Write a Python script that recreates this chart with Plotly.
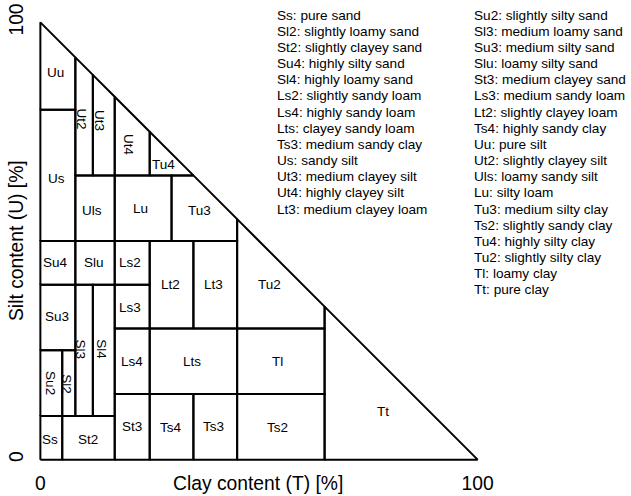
import plotly.graph_objects as go

# ---- data: KA5 soil texture classes (clay T %, silt U %) ----
class_names = ["Ss", "St2", "Su2", "Sl2", "Sl3", "Sl4", "Su3", "Su4", "Slu",
               "St3", "Ls4", "Ls3", "Ls2", "Ts4", "Ts3", "Lts", "Lt2", "Lt3",
               "Ts2", "Tl", "Tu2", "Tt", "Us", "Uu", "Uls", "Ut2", "Ut3", "Ut4",
               "Tu4", "Lu", "Tu3"]
poly_T = [
    [0, 5, 5, 0], [5, 17, 17, 5], [0, 5, 5, 0], [5, 8, 8, 5], [8, 12, 12, 8],
    [12, 17, 17, 12], [0, 8, 8, 0], [0, 8, 8, 0], [8, 17, 17, 8],
    [17, 25, 25, 17], [17, 25, 25, 17], [17, 25, 25, 17], [17, 25, 25, 17],
    [25, 35, 35, 25], [35, 45, 45, 35], [25, 45, 45, 25], [25, 35, 35, 25],
    [35, 45, 45, 35], [45, 65, 65, 45], [45, 65, 65, 45], [45, 65, 65, 45],
    [65, 100, 65], [0, 8, 8, 0], [0, 8, 8, 0], [8, 17, 17, 8], [8, 12, 12, 8],
    [12, 17, 17, 12], [17, 25, 25, 17], [25, 35, 25], [17, 30, 30, 17],
    [30, 45, 45, 35, 30],
]
poly_U = [
    [0, 0, 10, 10], [0, 0, 10, 10], [10, 10, 25, 25], [10, 10, 25, 25], [10, 10, 40, 40],
    [10, 10, 40, 40], [25, 25, 40, 40], [40, 40, 50, 50], [40, 40, 50, 50],
    [0, 0, 15, 15], [15, 15, 30, 30], [30, 30, 40, 40], [40, 40, 50, 50],
    [0, 0, 15, 15], [0, 0, 15, 15], [15, 15, 30, 30], [30, 30, 50, 50],
    [30, 30, 50, 50], [0, 0, 15, 15], [15, 15, 30, 30], [30, 30, 35, 55],
    [0, 0, 35], [50, 50, 80, 80], [80, 80, 92, 100], [50, 50, 65, 65], [65, 65, 88, 92],
    [65, 65, 83, 88], [65, 65, 75, 83], [65, 65, 75], [50, 50, 65, 65],
    [50, 50, 55, 65, 65],
]
label_T = [2.3, 11.0, 2.3, 6.1, 9.3, 13.9, 3.7, 3.4, 12.2,
           20.9, 20.9, 20.6, 20.6, 29.9, 39.7, 34.6, 29.7, 39.6,
           54.3, 54.3, 52.5, 78.3, 3.8, 3.5, 11.8, 9.5, 13.5, 20.1,
           28.1, 22.8, 36.4]
label_U = [4.6, 4.6, 17.4, 17.2, 25.2, 25.2, 32.7, 45.0, 45.0,
           7.6, 22.4, 34.7, 45.1, 7.3, 7.6, 22.5, 40.0, 40.0,
           7.3, 22.4, 40.0, 11.0, 64.3, 88.6, 57.0, 77.8, 77.6, 71.9,
           67.5, 57.4, 57.0]
rotated_labels = {"Su2", "Sl2", "Sl3", "Sl4", "Ut2", "Ut3", "Ut4"}

legend_col1 = ["Ss: pure sand", "Sl2: slightly loamy sand", "St2: slightly clayey sand",
               "Su4: highly silty sand", "Sl4: highly loamy sand", "Ls2: slightly sandy loam",
               "Ls4: highly sandy loam", "Lts: clayey sandy loam", "Ts3: medium sandy clay",
               "Us: sandy silt", "Ut3: medium clayey silt", "Ut4: highly clayey silt",
               "Lt3: medium clayey loam"]
legend_col2 = ["Su2: slightly silty sand", "Sl3: medium loamy sand", "Su3: medium silty sand",
               "Slu: loamy silty sand", "St3: medium clayey sand", "Ls3: medium sandy loam",
               "Lt2: slightly clayey loam", "Ts4: highly sandy clay", "Uu: pure silt",
               "Ut2: slightly clayey silt", "Uls: loamy sandy silt", "Lu: silty loam",
               "Tu3: medium silty clay", "Ts2: slightly sandy clay", "Tu4: highly silty clay",
               "Tu2: slightly silty clay", "Tl: loamy clay", "Tt: pure clay"]

tick_vals = [0, 100]
tick_text = ["0", "100"]
x_title = "Clay content (T) [%]"
y_title = "Silt content (U) [%]"

# ---- figure ----
FONT = "Liberation Sans, Arial, sans-serif"
W, H = 631, 496
ML, MR, MT, MB = 36, 149, 18, 32
PW, PH = W - ML - MR, H - MT - MB

fig = go.Figure()
for name, ts, us in zip(class_names, poly_T, poly_U):
    fig.add_trace(go.Scatter(
        x=ts + [ts[0]], y=us + [us[0]], mode="lines",
        line=dict(color="black", width=2), hoverinfo="text", text=name,
        showlegend=False, cliponaxis=False))

annotations = []
for name, t, u in zip(class_names, label_T, label_U):
    annotations.append(dict(
        x=t, y=u, xref="x", yref="y", text=name, showarrow=False,
        textangle=90 if name in rotated_labels else 0,
        font=dict(family=FONT, size=13.5, color="black"),
        xanchor="center", yanchor="middle"))

def px_to_paper(px, py):
    return (px - ML) / PW, (H - MB - py) / PH

row_h = 16.17
for col_x, col in ((275, legend_col1), (472, legend_col2)):
    for i, txt in enumerate(col):
        px, py = px_to_paper(col_x, 15 + i * row_h)
        annotations.append(dict(
            x=px, y=py, xref="paper", yref="paper", text=txt, showarrow=False,
            xanchor="left", yanchor="middle",
            font=dict(family=FONT, size=13.6, color="black")))

tx, ty = px_to_paper(258, 483)
annotations.append(dict(x=tx, y=ty, xref="paper", yref="paper", text=x_title,
                        showarrow=False, xanchor="center", yanchor="middle",
                        font=dict(family=FONT, size=19.3, color="black")))
tx, ty = px_to_paper(16, 241)
annotations.append(dict(x=tx, y=ty, xref="paper", yref="paper", text=y_title,
                        showarrow=False, xanchor="center", yanchor="middle",
                        textangle=-90,
                        font=dict(family=FONT, size=19.3, color="black")))

fig.update_layout(
    width=W, height=H,
    margin=dict(l=ML, r=MR, t=MT, b=MB, pad=0, autoexpand=False),
    paper_bgcolor="white", plot_bgcolor="white",
    showlegend=False,
    annotations=annotations,
    xaxis=dict(range=[-1, 101], showgrid=False, zeroline=False, showline=False,
               tickvals=tick_vals, ticktext=tick_text, ticks="",
               ticklabelstandoff=6, automargin=False,
               tickfont=dict(family=FONT, size=19.3, color="black"),
               fixedrange=True),
    yaxis=dict(range=[-1, 101], showgrid=False, zeroline=False, showline=False,
               tickvals=tick_vals, ticktext=tick_text, ticks="",
               tickangle=-90, ticklabelstandoff=8, automargin=False,
               tickfont=dict(family=FONT, size=19.3, color="black"),
               fixedrange=True),
)

fig.write_html("out.html",
               post_script="document.body.style.margin='0';document.body.style.overflow='hidden';",
               config={"displayModeBar": False})
